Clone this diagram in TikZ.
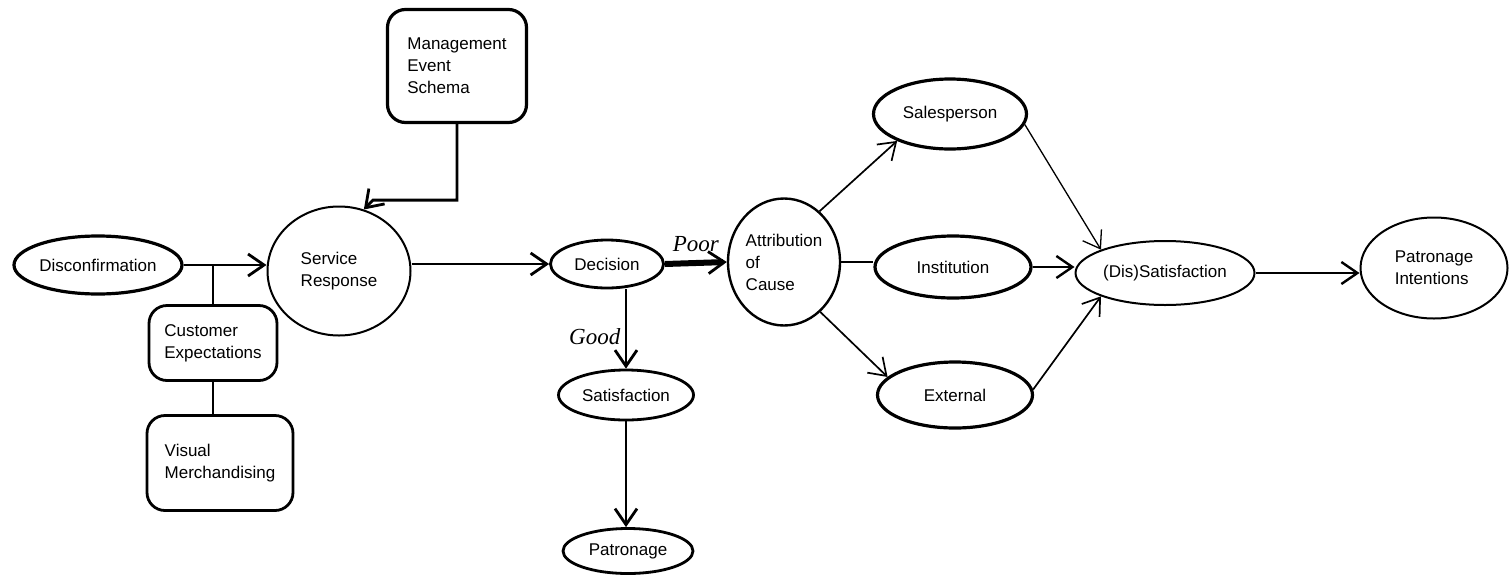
\documentclass[tikz,border=0pt]{standalone}
\usepackage{fontspec}
\setmainfont{Liberation Sans}
\newfontfamily\remarkfont{Liberation Serif}
\usetikzlibrary{arrows.meta,shapes.geometric}

\tikzset{
  >={Straight Barb[length=16pt,width=22pt]},
  oval/.style={ellipse, draw, line width=3.2pt, inner sep=0pt, align=center},
  thinoval/.style={ellipse, draw, line width=2pt, inner sep=0pt, align=left},
  card/.style={rectangle, rounded corners=18pt, draw, line width=2.8pt, inner sep=0pt, align=left},
  link/.style={line width=2.8pt},
  finelink/.style={line width=1.7pt},
  remark/.style={font=\remarkfont\itshape\fontsize{23}{23}\selectfont}
}

\begin{document}
\begin{tikzpicture}[x=1pt, y=-1pt, font=\fontsize{17}{22}\selectfont]
  \useasboundingbox (0,0) rectangle (1509,576);

  % left part
  \node[oval, minimum width=168pt, minimum height=58pt] (disconf) at (98,265) {Disconfirmation};
  \node[thinoval, minimum width=143pt, minimum height=129pt] (service) at (339,271) {Service\\Response};
  \node[card, line width=3.2pt, minimum width=139pt, minimum height=113pt] (mgmt) at (457,66) {Management\\Event\\Schema};
  \node[card, minimum width=128pt, minimum height=75pt] (custexp) at (213,343) {Customer\\Expectations};
  \node[card, minimum width=146pt, minimum height=95pt] (visual) at (220,463) {Visual\\Merchandising};

  \draw[link, ->] (disconf.east) -- (disconf.east -| service.west);
  \draw[link] (disconf.east -| custexp.north) -- (custexp.north);
  \draw[link] (custexp.south) -- (custexp.south |- visual.north);
  \draw[link, ->] (mgmt.south) |- ++(-84,76) -- (service.68);

  % decision
  \node[oval, line width=2.8pt, minimum width=113pt, minimum height=48pt] (decision) at (607,264) {Decision};
  \node[oval, line width=2.8pt, minimum width=135pt, minimum height=50pt] (satisf) at (626,395) {Satisfaction};
  \node[oval, line width=2.8pt, minimum width=130pt, minimum height=45pt] (patron) at (628,551) {Patronage};

  \draw[link, ->] (decision.west -| service.east) -- (decision.west);
  \draw[link, ->] (decision.south -| satisf.north) -- node[remark, left=1pt, pos=0.6]{Good} (satisf.north);
  \draw[link, ->] (satisf.south) -- (satisf.south |- patron.north);

  % attribution
  \node[thinoval, line width=2.4pt, minimum width=112pt, minimum height=127pt] (attrib) at (784,262) {Attribution\\of\\Cause};
  \draw[line width=6pt, -{Straight Barb[length=16pt,width=22pt,line width=2.8pt]}] (decision.east) -- node[remark, above=5pt]{Poor} (attrib.west);

  \node[oval, minimum width=153pt, minimum height=70pt] (sales) at (950,114) {Salesperson};
  \node[oval, minimum width=156pt, minimum height=62pt] (instit) at (953,267) {Institution};
  \node[oval, minimum width=155pt, minimum height=66pt] (extern) at (955,395) {External};

  \draw[finelink, ->] (attrib.55) -- (sales.207);
  \draw[finelink] (attrib.east) -- (attrib.east -| instit.west);
  \draw[finelink, ->] (attrib.306) -- (extern.165);

  % outcome
  \node[thinoval, minimum width=179pt, minimum height=64pt] (dissat) at (1165,273) {(Dis)Satisfaction};
  \node[thinoval, minimum width=147pt, minimum height=101pt] (intent) at (1434,268) {Patronage\\Intentions};

  \draw[finelink, line width=1.3pt, ->] (sales.352) -- (dissat.160);
  \draw[link, line width=2.4pt, ->] (instit.east) -- (instit.east -| dissat.west);
  \draw[finelink, ->] (extern.4) -- (dissat.200);
  \draw[link, line width=2.4pt, ->] (dissat.east) -- (dissat.east -| intent.west);
\end{tikzpicture}
\end{document}
